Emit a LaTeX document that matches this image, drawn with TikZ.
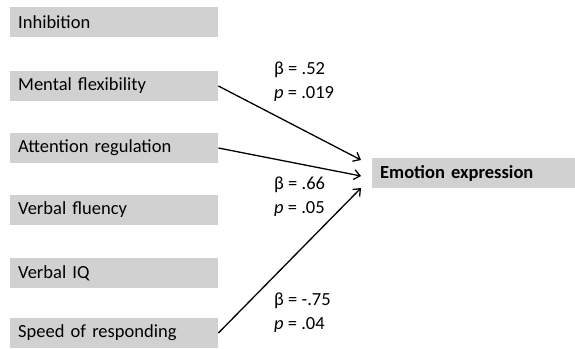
\documentclass[tikz,border=0pt]{standalone}
\usepackage{fontspec}
\setmainfont{Carlito}
\usetikzlibrary{arrows.meta}
\begin{document}
\begin{tikzpicture}[x=1pt,y=-1pt]
			\tikzstyle{every node}+=[inner sep=0pt]
			\tikzstyle{predbox}=[fill=black!18,inner xsep=8pt,minimum width=208pt,minimum height=30pt,anchor=west,text width=192pt,align=left,font=\fontsize{18.5}{22}\selectfont]
			\tikzstyle{outbox}=[predbox,minimum width=203pt,text width=187pt,font=\bfseries\fontsize{18.5}{22}\selectfont]
			\tikzstyle{coef}=[anchor=west,align=left,font=\fontsize{18.5}{24}\selectfont]
			\tikzstyle{path}=[black,line width=1.3pt,-{Straight Barb[length=6pt,width=10pt]}]
			\useasboundingbox (0,0) rectangle (575,348);
			\node [predbox] (inh) at (10,22) {Inhibition};
			\node [predbox] (mflex) at (10,86) {Mental flexibility};
			\node [predbox] (attreg) at (10,148) {Attention regulation};
			\node [predbox] (vflu) at (10,210) {Verbal fluency};
			\node [predbox] (viq) at (10,273) {Verbal IQ};
			\node [predbox] (speed) at (10,333) {Speed of responding};
			\node [outbox] (emo) at (372,173) {Emotion expression};
			\coordinate (in1) at (361,160);
			\coordinate (in2) at (361,176);
			\coordinate (in3) at (361,188);
			\draw [path] (mflex.east) -- (in1);
			\draw [path] (attreg.east) -- (in2);
			\draw [path] (speed.east) -- (in3);
			\node [coef] (c1) at (274,82) {β = .52\\\textit{p} = .019};
			\node [coef] (c2) at (274,197) {β = .66\\\textit{p} = .05};
			\node [coef] (c3) at (274,313) {β = -.75\\\textit{p} = .04};
			\end{tikzpicture}
\end{document}
